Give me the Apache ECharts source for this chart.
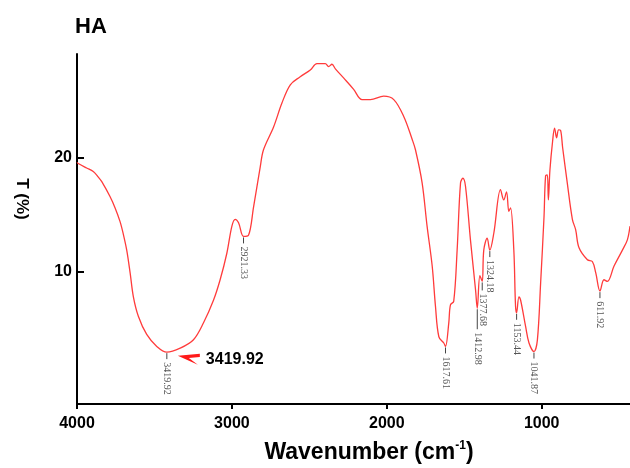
<!DOCTYPE html>
<html>
<head>
<meta charset="utf-8">
<script src="https://cdn.jsdelivr.net/npm/echarts@6/dist/echarts.min.js"></script>
<style>
  html, body { margin: 0; padding: 0; background: #fff; }
  #chart { width: 630px; height: 468px; }
</style>
</head>
<body>
<div id="chart"></div>
<script>
// spectrum (x in the axis' wavenumber scale)
const wavenumber = [4000, 3992, 3938, 3895, 3862, 3840, 3787, 3754, 3722, 3701, 3679, 3657, 3636, 3604, 3550, 3485, 3420, 3334, 3248, 3184, 3119, 3076, 3033, 3000, 2979, 2957, 2925, 2893, 2860, 2817, 2796, 2731, 2677, 2623, 2559, 2494, 2451, 2397, 2376, 2354, 2332, 2279, 2214, 2160, 2106, 2020, 1955, 1890, 1836, 1815, 1772, 1740, 1707, 1686, 1664, 1632, 1621, 1600, 1589, 1568, 1546, 1524, 1509, 1492, 1460, 1427, 1416, 1399, 1384, 1374, 1352, 1335, 1309, 1266, 1245, 1227, 1212, 1201, 1180, 1169, 1162, 1147, 1136, 1104, 1082, 1050, 1028, 1007, 985, 975, 964, 957, 947, 930, 917, 904, 891, 878, 865, 835, 802, 781, 759, 705, 673, 651, 624, 598, 576, 533, 479, 447, 430];
const transmittance = [19.6, 19.5, 19.1, 18.8, 18.3, 17.9, 16.6, 15.6, 14.4, 13.3, 11.9, 9.9, 7.8, 6.1, 4.5, 3.45, 2.95, 3.3, 4.04, 5.5, 7.5, 9.3, 11.6, 14.0, 14.6, 14.3, 13.1, 13.2, 15.7, 19.2, 20.7, 22.7, 24.8, 26.4, 27.1, 27.7, 28.25, 28.25, 28.0, 28.2, 27.8, 27.0, 26.0, 25.1, 25.1, 25.4, 25.1, 23.6, 21.6, 20.7, 17.8, 14.0, 10.5, 7.0, 4.3, 3.75, 3.45, 5.5, 7.1, 7.4, 11.9, 17.8, 18.2, 17.5, 12.8, 8.4, 6.8, 9.65, 9.15, 11.9, 12.95, 11.9, 13.4, 17.2, 16.3, 17.0, 15.3, 15.6, 11.9, 7.0, 6.4, 7.8, 7.5, 5.2, 3.75, 3.0, 4.0, 9.0, 14.85, 18.4, 18.5, 16.3, 18.9, 21.4, 22.6, 21.75, 22.45, 22.4, 20.9, 17.8, 14.6, 13.7, 12.1, 11.05, 10.9, 9.9, 8.3, 9.3, 9.15, 10.5, 11.9, 12.8, 14.0];

// peak annotations
const peakWn = [3420, 2925, 1621, 1416, 1384, 1335, 1162, 1050, 624];
const peakT = [2.95, 13.1, 3.45, 6.8, 9.15, 11.9, 6.4, 3.0, 8.3];
const peakText = ['3419.92', '2921.33', '1617.61', '1412.98', '1377.68', '1324.18', '1153.44', '1041.87', '611.92'];

const xTicks = [4000, 3000, 2000, 1000];
const yTicks = [10, 20];

// stick length under each peak (px)
const stickLen = [6, 6, 6, 20, 8, 6, 6, 6, 6];

const chart = echarts.init(document.getElementById('chart'));
chart.setOption({
  animation: false,
  title: {
    text: 'HA',
    left: 70, top: 11,
    textStyle: { fontFamily: 'Liberation Sans', fontWeight: 'bold', fontSize: 22, color: '#000' }
  },
  grid: { left: 77, right: 0, top: 54, bottom: 64 },
  xAxis: {
    type: 'value',
    inverse: true,
    min: 430, max: 4000,
    axisLine: { onZero: false, lineStyle: { color: '#000', width: 2 } },
    axisTick: { customValues: xTicks, length: 5, lineStyle: { color: '#000', width: 2 } },
    axisLabel: {
      customValues: xTicks,
      formatter: (v) => String(v),
      margin: 12,
      fontFamily: 'Liberation Sans', fontWeight: 'bold', fontSize: 16, color: '#000'
    },
    splitLine: { show: false }
  },
  yAxis: {
    type: 'value',
    min: -1.6, max: 29.1,
    axisLine: { show: true, onZero: false, lineStyle: { color: '#000', width: 2 } },
    axisTick: { customValues: yTicks, inside: true, length: 7, lineStyle: { color: '#000', width: 2 } },
    axisLabel: {
      customValues: yTicks,
      formatter: (v) => String(v),
      margin: 5,
      fontFamily: 'Liberation Sans', fontWeight: 'bold', fontSize: 16, color: '#000'
    },
    splitLine: { show: false }
  },
  graphic: [
    {
      type: 'text', x: 22, y: 199, rotation: -Math.PI / 2,
      style: {
        text: 'T (%)', textAlign: 'center', textVerticalAlign: 'middle',
        font: 'bold 17px "Liberation Sans"', fill: '#000'
      }
    },
    {
      type: 'text', x: 369, y: 453,
      style: {
        text: 'Wavenumber (cm{s|-1})', textAlign: 'center', textVerticalAlign: 'middle',
        font: 'bold 23px "Liberation Sans"', fill: '#000',
        rich: { s: { fontSize: 12, fontWeight: 'bold', fontFamily: 'Liberation Sans', verticalAlign: 'top', lineHeight: 26, padding: [0, 0, 8, 0] } }
      }
    }
  ],
  series: [
    {
      type: 'line',
      data: wavenumber.map((w, i) => [w, transmittance[i]]),
      symbol: 'none',
      smooth: 0.35,
      lineStyle: { color: '#ff3b3b', width: 1.3 },
      markPoint: {
        symbol: 'path://M0,2 L22,0 L22,3 L11,4 L20,10 Z',
        symbolSize: [22, 11],
        symbolOffset: [22, 7],
        itemStyle: { color: '#ff1a1a' },
        label: {
          show: true, position: 'right', distance: 6,
          formatter: peakText[0],
          fontFamily: 'Liberation Sans', fontWeight: 'bold', fontSize: 16, color: '#000'
        },
        data: [{ coord: [peakWn[0], peakT[0]] }]
      }
    },
    {
      type: 'custom',
      data: peakWn.map((w, i) => [w, peakT[i], i]),
      renderItem(params, api) {
        const p = api.coord([api.value(0), api.value(1)]);
        const i = api.value(2);
        const len = stickLen[i];
        return {
          type: 'group',
          children: [
            {
              type: 'line',
              shape: { x1: p[0], y1: p[1] + 1, x2: p[0], y2: p[1] + 1 + len },
              style: { stroke: '#444', lineWidth: 1 }
            },
            {
              type: 'text', x: p[0], y: p[1] + len + 4, rotation: -Math.PI / 2,
              style: {
                text: peakText[i], textAlign: 'left', textVerticalAlign: 'middle',
                font: '10px "Liberation Serif"', fill: '#555'
              }
            }
          ]
        };
      }
    }
  ]
});
</script>
</body>
</html>
